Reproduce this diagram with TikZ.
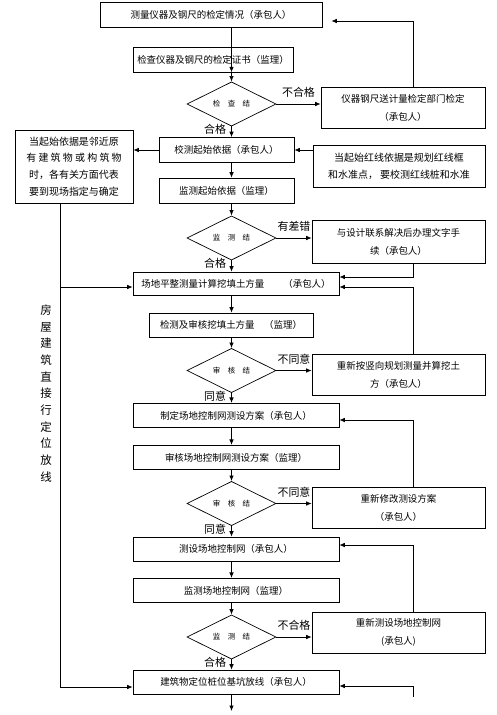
\documentclass[tikz,border=0pt]{standalone}
\usepackage{fontspec}
\setmainfont{Noto Sans CJK SC}
\usetikzlibrary{shapes.geometric,arrows.meta}

\begin{document}
\begin{tikzpicture}[x=1bp,y=-1bp,
  box/.style={draw,line width=0.7pt,inner sep=0pt,align=center,font=\fontsize{9.5}{18}\selectfont},
  wide/.style={box,minimum width=206bp,minimum height=24.5bp},
  side/.style={box,minimum width=173bp,minimum height=41bp},
  chk/.style={draw,diamond,line width=0.7pt,inner sep=0pt,minimum width=89bp,minimum height=32bp,font=\fontsize{7.5}{8}\selectfont},
  lbl/.style={inner sep=1pt,font=\fontsize{11}{12}\selectfont},
  arr/.style={line width=0.7pt,-{Latex[length=5.5pt,width=4.5pt]}}]
  \useasboundingbox (0,0) rectangle (497,715);
  \coordinate (col) at (231.5,0);
  \coordinate (fb) at (413,0);
  \coordinate (lx) at (60,0);

  \node[box,minimum width=222bp,minimum height=25bp] (b1) at (211,14.5) {测量仪器及钢尺的检定情况（承包人）};
  \node[box,minimum width=160bp,minimum height=25bp] (b2) at (213,59.5) {检查仪器及钢尺的检定证书（监理）};
  \node[chk] (d1) at (231.5,104) {检\quad 查\quad 结};
  \node[side,minimum width=164bp] (r1) at (403,107.5) {仪器钢尺送计量检定部门检定\\（承包人）};
  \node[box,minimum width=135bp,minimum height=25bp] (b3) at (226.5,150) {校测起始依据（承包人）};
  \node[box,minimum width=118bp,minimum height=73bp,font=\fontsize{10}{16.7}\selectfont] (lft) at (74,166.5) {当起始依据是邻近原\\有 建 筑 物 或 构 筑 物\\时，各有关方面代表\\要到现场指定与确定};
  \node[box,minimum width=172bp,minimum height=42bp,font=\fontsize{10}{17}\selectfont] (r2) at (399,166) {当起始红线依据是规划红线框\\和水准点， 要校测红线桩和水准};
  \node[box,minimum width=135bp,minimum height=25bp] (b4) at (226.5,190.5) {监测起始依据（监理）};
  \node[chk,minimum height=31bp] (d2) at (231.5,238) {监\quad 测\quad 结};
  \node[side,minimum height=43bp] (r3) at (398.5,241.5) {与设计联系解决后办理文字手\\续（承包人）};
  \node[wide,minimum height=23bp] (b5) at (236,283.5) {场地平整测量计算挖填土方量　　（承包人）};
  \node[box,minimum width=164bp,minimum height=24bp] (b6) at (231,325) {检测及审核挖填土方量　（监理）};
  \node[chk,minimum height=33bp] (d3) at (231.5,370.5) {审\quad 核\quad 结};
  \node[side] (r4) at (398.5,374.5) {重新按竖向规划测量并算挖土\\方（承包人）};
  \node[wide] (b7) at (236,415.5) {制定场地控制网测设方案（承包人）};
  \node[wide] (b8) at (236,457.5) {审核场地控制网测设方案（监理）};
  \node[chk,minimum height=33bp] (d4) at (231.5,503.5) {审\quad 核\quad 结};
  \node[side] (r5) at (398.5,507.5) {重新修改测设方案\\（承包人）};
  \node[wide,minimum height=24bp] (b9) at (236,549) {测设场地控制网（承包人）};
  \node[wide] (b10) at (236,590.5) {监测场地控制网（监理）};
  \node[chk] (d5) at (231.5,637) {监\quad 测\quad 结};
  \node[side] (r6) at (398.5,632.5) {重新测设场地控制网\\(承包人)};
  \node[wide,minimum height=24bp] (b11) at (236,682) {建筑物定位桩位基坑放线（承包人）};
  \node[align=center,font=\fontsize{11.5}{16.7}\selectfont] (vt) at (46,393.5) {房\\屋\\建\\筑\\直\\接\\行\\定\\位\\放\\线};
  \coordinate (more) at (413,697);
  \coordinate (out) at (231.5,711);

  \draw[arr] (b1.south -| col) -- (b2.south -| col |- b2.north);
  \draw[arr] (b2.south -| col) -- (d1.north);
  \draw[arr] (d1.east) -- node[lbl,above=5bp]{不合格} (r1.west |- d1.east);
  \draw[arr] (r1.north -| fb) |- ([xshift=9bp,yshift=-6.5bp]b1.east);
  \draw[arr] (d1.south) -- node[lbl,left=4bp,pos=0.3]{合格} (b3.north -| col);
  \draw[arr] (b3.west) -- (b3.west -| lft.east);
  \draw[arr] (r2.west |- b3.east) -- (b3.east);
  \draw[arr] (b3.south -| col) -- (b4.north -| col);
  \draw[arr] (b4.south -| col) -- (d2.north);
  \draw[arr] (d2.east) -- node[lbl,above=5bp]{有差错} (r3.west |- d2.east);
  \draw[arr] (d2.south) -- node[lbl,left=4bp,pos=0.3]{合格} (b5.north -| col);
  \draw[arr] (r3.south -| fb) |- ([yshift=6.5bp]b5.east);
  \draw[arr] (lft.south -| lx) |- ([yshift=-5bp]b11.west);
  \draw[arr] ([yshift=-3.5bp]b5.west -| lx) -- ([yshift=-3.5bp]b5.west);
  \draw[arr] (b5.south -| col) -- (b6.north -| col);
  \draw[arr] (b6.south -| col) -- (d3.north);
  \draw[arr] (d3.east) -- node[lbl,above=5bp]{不同意} (r4.west |- d3.east);
  \draw[arr] (r4.north -| fb) |- ([yshift=-3.5bp]b5.east);
  \draw[arr] (d3.south) -- node[lbl,left=4bp,pos=0.3]{同意} (b7.north -| col);
  \draw[arr] (b7.south -| col) -- (b8.north -| col);
  \draw[arr] (b8.south -| col) -- (d4.north);
  \draw[arr] (d4.east) -- node[lbl,above=5bp]{不同意} (r5.west |- d4.east);
  \draw[arr] (r5.north -| fb) |- ([yshift=-4.5bp]b7.east);
  \draw[arr] (d4.south) -- node[lbl,left=4bp,pos=0.3]{同意} (b9.north -| col);
  \draw[arr] (b9.south -| col) -- (b10.north -| col);
  \draw[arr] (b10.south -| col) -- (d5.north);
  \draw[arr] (d5.east) -- node[lbl,above=5bp]{不合格} (r6.west |- d5.east);
  \draw[arr] (r6.north -| fb) |- ([yshift=4bp]b9.east);
  \draw[arr] (d5.south) -- node[lbl,left=4bp,pos=0.3]{合格} (b11.north -| col);
  \draw[arr] (more) |- ([yshift=-4bp]b11.east);
  \draw[arr] (b11.south -| col) -- (out);
\end{tikzpicture}
\end{document}
